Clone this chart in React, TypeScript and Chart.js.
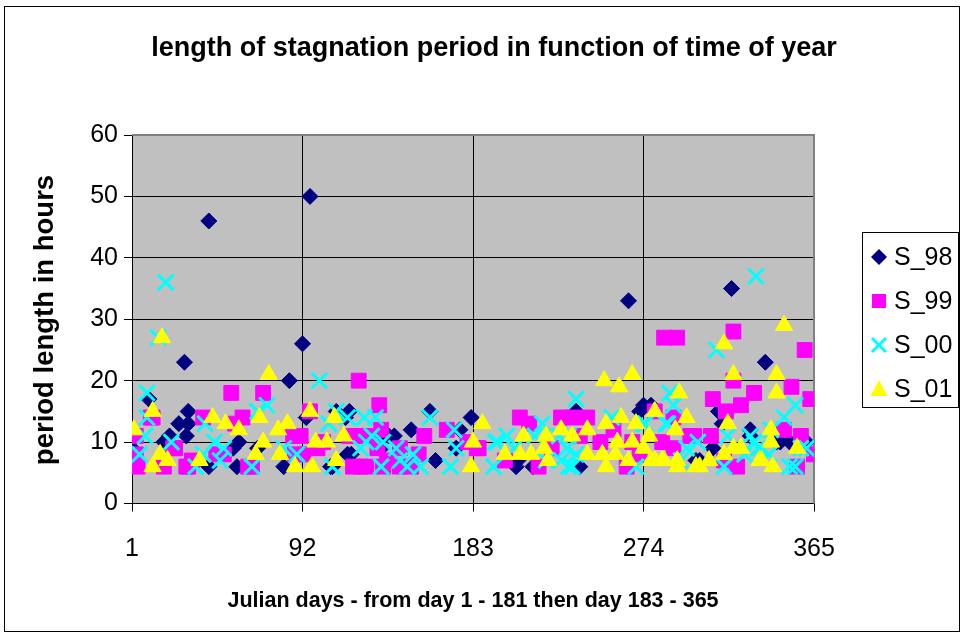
import React, { useEffect, useRef } from 'react';
import { Chart, registerables } from 'chart.js';

Chart.register(...registerables);

const FONT = "'Liberation Sans', Arial, sans-serif";

const chartTitle = 'length of stagnation period in function of time of year';
const xAxisTitle = 'Julian days - from day 1 - 181 then day 183 - 365';
const yAxisTitle = 'period length in hours';
const xTickValues = [1, 92, 183, 274, 365];
const yTickStep = 10;
const seriesNames = ['S_98', 'S_99', 'S_00', 'S_01'];
const seriesColors = ['#000080', '#FF00FF', '#00FFFF', '#FFFF00'];

const s98Days = [1, 10, 18, 21, 26, 29, 30, 31, 31, 42, 42, 55, 57, 58, 68, 82, 85, 92, 94, 96, 107, 108, 110, 115, 116, 117, 118, 134, 135, 138, 141, 150, 160, 163, 174, 176, 182, 206, 207, 215, 238, 240, 266, 272, 274, 278, 302, 304, 311, 314, 316, 321, 331, 331, 339, 345, 347, 352, 361];
const s98Hours = [9, 17, 10, 11, 13, 23, 11, 13, 15, 46, 6, 9, 6, 10, 9, 6, 20, 26, 14, 50, 6, 6, 15, 14, 8, 15, 8, 9, 11, 11, 11, 12, 15, 7, 9, 12, 14, 6, 7, 6, 15, 6, 33, 15, 16, 16, 7, 7, 9, 15, 13, 35, 11, 12, 23, 10, 10, 10, 10];

const s99Days = [3, 3, 4, 11, 12, 18, 23, 24, 30, 31, 33, 39, 46, 50, 54, 56, 60, 63, 65, 71, 87, 88, 91, 93, 96, 100, 103, 117, 119, 121, 122, 123, 126, 126, 132, 133, 134, 135, 137, 144, 144, 150, 154, 157, 169, 180, 185, 186, 200, 208, 213, 218, 225, 230, 236, 240, 244, 251, 258, 265, 268, 272, 280, 284, 285, 290, 290, 292, 299, 301, 310, 311, 317, 318, 322, 322, 324, 326, 333, 349, 353, 356, 358, 360, 363, 365];
const s99Hours = [11, 8, 6, 14, 14, 6, 9, 9, 6, 6, 7, 14, 8, 8, 18, 13, 14, 6, 6, 18, 11, 8, 11, 8, 15, 9, 10, 11, 6, 11, 20, 6, 6, 11, 9, 16, 12, 6, 7, 9, 6, 6, 8, 11, 12, 10, 9, 9, 7, 14, 13, 6, 9, 14, 14, 11, 14, 10, 12, 6, 10, 8, 15, 10, 27, 14, 9, 27, 11, 11, 11, 17, 7, 15, 20, 28, 6, 16, 18, 12, 19, 6, 11, 25, 17, 8];

const s00Days = [5, 8, 9, 9, 15, 19, 22, 35, 39, 40, 45, 48, 50, 65, 68, 73, 82, 89, 101, 106, 108, 110, 116, 123, 125, 126, 129, 131, 134, 135, 142, 144, 148, 151, 155, 160, 171, 173, 174, 194, 195, 196, 201, 205, 216, 220, 222, 229, 230, 233, 234, 234, 236, 238, 238, 257, 270, 274, 275, 286, 287, 288, 290, 294, 297, 303, 313, 317, 319, 328, 331, 333, 334, 335, 336, 341, 342, 349, 352, 355, 355, 358, 361];
const s00Hours = [8, 11, 14, 18, 27, 36, 10, 6, 8, 13, 10, 7, 9, 6, 15, 16, 9, 8, 20, 13, 6, 15, 14, 9, 14, 10, 11, 14, 6, 10, 9, 7, 6, 8, 6, 14, 6, 12, 9, 6, 10, 10, 11, 9, 11, 13, 7, 11, 7, 9, 6, 11, 6, 17, 8, 14, 6, 13, 13, 13, 13, 18, 16, 7, 9, 10, 25, 6, 11, 8, 11, 10, 37, 9, 9, 8, 12, 14, 6, 6, 16, 9, 9];

const s01Days = [2, 12, 12, 16, 17, 20, 37, 44, 51, 58, 67, 69, 71, 74, 79, 80, 84, 88, 96, 97, 99, 105, 109, 110, 114, 182, 183, 188, 200, 208, 210, 214, 221, 222, 223, 230, 236, 244, 244, 252, 253, 254, 254, 259, 260, 261, 262, 266, 268, 268, 270, 274, 277, 278, 280, 280, 284, 285, 291, 292, 292, 293, 297, 302, 304, 309, 317, 317, 319, 322, 322, 326, 336, 337, 342, 342, 343, 345, 345, 349, 356];
const s01Hours = [12, 15, 6, 8, 27, 7, 7, 14, 13, 12, 8, 14, 10, 21, 12, 8, 13, 6, 15, 6, 10, 10, 14, 7, 11, 6, 10, 13, 8, 8, 11, 8, 9, 11, 7, 12, 11, 12, 8, 8, 20, 13, 6, 8, 10, 19, 14, 7, 10, 21, 13, 9, 11, 7, 15, 7, 7, 7, 12, 7, 6, 18, 14, 6, 6, 7, 26, 8, 13, 21, 9, 9, 7, 7, 12, 10, 6, 21, 18, 29, 9];

const toPoints = (days: number[], hours: number[]) => days.map((d, i) => ({ x: d, y: hours[i] }));

function drawMarker(ctx: CanvasRenderingContext2D, kind: number, x: number, y: number, color: string) {
  ctx.save();
  ctx.fillStyle = color;
  ctx.strokeStyle = color;
  if (kind === 0) {
    ctx.beginPath();
    ctx.moveTo(x, y - 8); ctx.lineTo(x + 8, y); ctx.lineTo(x, y + 8); ctx.lineTo(x - 8, y);
    ctx.closePath(); ctx.fill();
  } else if (kind === 1) {
    ctx.fillRect(x - 7, y - 7, 14, 14);
  } else if (kind === 2) {
    ctx.lineWidth = 3;
    ctx.beginPath();
    ctx.moveTo(x - 7, y - 7); ctx.lineTo(x + 7, y + 7);
    ctx.moveTo(x + 7, y - 7); ctx.lineTo(x - 7, y + 7);
    ctx.stroke();
  } else {
    ctx.beginPath();
    ctx.moveTo(x, y - 9); ctx.lineTo(x + 8.5, y + 7); ctx.lineTo(x - 8.5, y + 7);
    ctx.closePath(); ctx.fill();
  }
  ctx.restore();
}

const decorPlugin = {
  id: 'decor',
  beforeDraw(chart: any) {
    const { ctx, chartArea: a } = chart;
    ctx.save();
    ctx.fillStyle = '#FFFFFF';
    ctx.fillRect(0, 0, chart.width, chart.height);
    ctx.fillStyle = '#C0C0C0';
    ctx.fillRect(a.left, a.top, a.right - a.left, a.bottom - a.top);
    ctx.restore();
  },
  beforeDatasetsDraw(chart: any) {
    const { ctx, chartArea: a } = chart;
    ctx.save();
    ctx.strokeStyle = '#808080';
    ctx.lineWidth = 2;
    ctx.beginPath();
    ctx.moveTo(a.left, a.top);
    ctx.lineTo(a.right, a.top);
    ctx.lineTo(a.right, a.bottom);
    ctx.stroke();
    ctx.restore();
  },
  afterDraw(chart: any) {
    const { ctx, chartArea: a } = chart;
    ctx.save();
    ctx.strokeStyle = '#000000';
    ctx.lineWidth = 1;
    ctx.strokeRect(4.5, 6.5, 955, 625);
    ctx.fillStyle = '#000000';
    ctx.textAlign = 'center';
    ctx.textBaseline = 'middle';
    ctx.font = `bold 27px ${FONT}`;
    ctx.fillText(chartTitle, 494, 49);
    ctx.font = `bold 21.5px ${FONT}`;
    ctx.fillText(xAxisTitle, (a.left + a.right) / 2, 601);
    ctx.save();
    ctx.translate(45, 320);
    ctx.rotate(-Math.PI / 2);
    ctx.font = `bold 27.5px ${FONT}`;
    ctx.fillText(yAxisTitle, 0, 0);
    ctx.restore();
    ctx.strokeStyle = '#000000';
    ctx.lineWidth = 1;
    ctx.strokeRect(862.5, 232.5, 96, 175);
    ctx.font = `25px ${FONT}`;
    ctx.textAlign = 'left';
    ctx.textBaseline = 'middle';
    seriesNames.forEach((name, i) => {
      const y = 257 + i * 44;
      drawMarker(ctx, i, 879, y, seriesColors[i]);
      ctx.fillStyle = '#000000';
      ctx.fillText(name, 894, y + 1);
    });
    ctx.restore();
  },
};

export default function App() {
  const canvasRef = useRef<HTMLCanvasElement | null>(null);

  useEffect(() => {
    const canvas = canvasRef.current;
    if (!canvas) return;
    const styles = [
      { pointStyle: 'rectRot', radius: 8, borderWidth: 1 },
      { pointStyle: 'rect', radius: 10.5, borderWidth: 1 },
      { pointStyle: 'crossRot', radius: 11, borderWidth: 3 },
      { pointStyle: 'triangle', radius: 10, borderWidth: 1 },
    ];
    const allPoints = [
      toPoints(s98Days, s98Hours),
      toPoints(s99Days, s99Hours),
      toPoints(s00Days, s00Hours),
      toPoints(s01Days, s01Hours),
    ];
    const chart = new Chart(canvas, {
      type: 'scatter',
      data: {
        datasets: seriesNames.map((name, i) => ({
          label: name,
          data: allPoints[i],
          backgroundColor: seriesColors[i],
          borderColor: seriesColors[i],
          pointStyle: styles[i].pointStyle as any,
          pointRadius: styles[i].radius,
          pointHoverRadius: styles[i].radius,
          pointBorderWidth: styles[i].borderWidth,
          order: 4 - i,
        })),
      },
      options: {
        animation: false,
        responsive: false,
        events: [],
        layout: { padding: { left: 0, top: 135, right: 150, bottom: 0 } },
        plugins: {
          legend: { display: false },
          title: { display: false },
          tooltip: { enabled: false },
        },
        scales: {
          x: {
            type: 'linear',
            min: 1,
            max: 365,
            afterBuildTicks: (scale: any) => {
              scale.ticks = xTickValues.map((v) => ({ value: v }));
            },
            afterFit: (scale: any) => {
              scale.height = 132.5;
            },
            grid: { color: '#000000', lineWidth: 1, tickLength: 8, drawTicks: true },
            border: { display: true, color: '#000000', width: 1 },
            ticks: {
              autoSkip: false,
              maxRotation: 0,
              padding: 23,
              color: '#000000',
              font: { family: FONT, size: 25 },
            },
          },
          y: {
            type: 'linear',
            min: 0,
            max: 60,
            afterFit: (scale: any) => {
              scale.width = 132;
            },
            grid: { color: '#000000', lineWidth: 1, tickLength: 8, drawTicks: true },
            border: { display: true, color: '#000000', width: 1 },
            ticks: {
              stepSize: yTickStep,
              padding: 6,
              color: '#000000',
              font: { family: FONT, size: 25 },
            },
          },
        },
      },
      plugins: [decorPlugin],
    });
    return () => chart.destroy();
  }, []);

  return (
    <div style={{ position: 'absolute', left: 0, top: 0, width: 964, height: 636, background: '#fff' }}>
      <canvas ref={canvasRef} width={964} height={636} style={{ display: 'block' }} />
    </div>
  );
}
